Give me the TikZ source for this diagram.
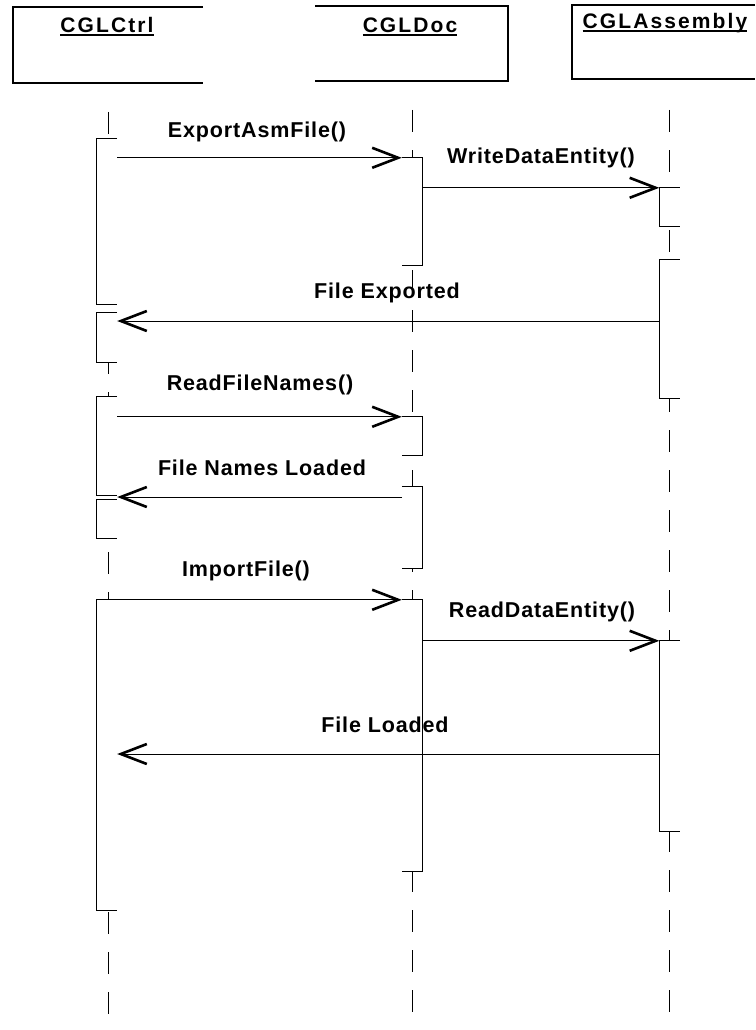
\documentclass[tikz,border=0pt]{standalone}
\usepackage{fontspec}
\setmainfont{Liberation Sans}[LetterSpace=4]
\newfontfamily\titlefont{Liberation Sans}[LetterSpace=10]
\usetikzlibrary{arrows.meta}
\newcommand\ulbox[1]{\setbox0\hbox{#1}\rlap{\rule[-3pt]{\wd0}{1.6pt}}\box0}
\newcommand\mkact[4]{\node[actbox, minimum height={(#4-#3)*1pt}] (#1) at (#2,{(#3+#4)/2}) {};}
\tikzset{
  headline/.style={draw=black, line width=1.2pt},
  title/.style={font=\titlefont\bfseries\fontsize{21}{23}\selectfont, anchor=base, inner sep=0pt},
  lbl/.style={font=\bfseries\fontsize{21.5}{23}\selectfont, anchor=base, inner sep=0pt},
  lifeline/.style={draw=black, line width=0.9pt, dash pattern=on 22pt off 18pt},
  actbox/.style={rectangle, minimum width=20pt, inner sep=0pt, fill=white, draw=none},
  actline/.style={draw=black, line width=0.9pt},
  msg/.style={draw=black, line width=0.9pt, -{Straight Barb[length=26pt,width=20pt,line width=2.6pt]}},
}
\begin{document}
\begin{tikzpicture}[x=1pt,y=-1pt]
\useasboundingbox[fill=white] (0,0) rectangle (755,1030);
% header boxes
\draw[headline] (203,7) -- (13,7) -- (13,83) -- (203,83);
\draw[headline] (315,6) -- (508,6) -- (508,81) -- (315,81);
\draw[headline] (755,5) -- (572,5) -- (572,79) -- (755,79);
\node[title] (tctrl) at (107,33) {\ulbox{CGLCtrl}};
\node[title] (tdoc) at (410,33) {\ulbox{CGLDoc}};
\node[title] (tasm) at (665,29) {\ulbox{CGLAssembly}};
% lifelines
\coordinate (ctop) at (108,112);
\coordinate (cbot) at (108,1030);
\coordinate (dtop) at (412,110);
\coordinate (dbot) at (412,1030);
\coordinate (atop) at (669,110);
\coordinate (abot) at (669,1030);
\draw[lifeline] (ctop) -- (cbot);
\draw[lifeline] (dtop) -- (dbot);
\draw[lifeline] (atop) -- (abot);
% activations
\mkact{c1}{107}{139}{304}
\mkact{c2}{107}{313}{362}
\mkact{c3}{107}{397}{495}
\mkact{c4}{107}{500}{538}
\mkact{c5}{107}{600}{910}
\mkact{d1}{412}{158}{265}
\mkact{d2}{412}{417}{455}
\mkact{d3}{412}{487}{568}
\mkact{d4}{412}{600}{871}
\mkact{a1}{669.5}{188}{226}
\mkact{a2}{669.5}{260}{398}
\mkact{a3}{669.5}{641}{831}
\foreach \n in {c1,c2,c3,c4,c5,a1,a2,a3}
  \draw[actline] (\n.north east) -- (\n.north west) -- (\n.south west) -- (\n.south east);
\foreach \n in {d1,d2,d3,d4}
  \draw[actline] (\n.north west) -- (\n.north east) -- (\n.south east) -- (\n.south west);
% messages
\draw[msg] (c1.east |- d1.north) -- (d1.north west);
\node[lbl] (l1) at (257,137) {ExportAsmFile()};
\draw[msg] (d1.east |- a1.north) -- (a1.north west);
\node[lbl] (l2) at (541,163) {WriteDataEntity()};
\coordinate (m3) at (659,321);
\draw[msg] (m3) -- (c2.east |- m3);
\node[lbl] (l3) at (387,298) {File Exported};
\draw[msg] (c3.east |- d2.north) -- (d2.north west);
\node[lbl] (l4) at (260,390) {ReadFileNames()};
\coordinate (m5) at (402,497);
\draw[msg] (m5) -- (c3.east |- m5);
\node[lbl] (l5) at (262,475) {File Names Loaded};
\draw[msg] (c5.north east) -- (d4.north west);
\node[lbl] (l6) at (246,576) {ImportFile()};
\draw[msg] (d4.east |- a3.north) -- (a3.north west);
\node[lbl] (l7) at (542,617) {ReadDataEntity()};
\coordinate (m8) at (659,754);
\draw[msg] (m8) -- (c5.east |- m8);
\node[lbl] (l8) at (385,732) {File Loaded};
\end{tikzpicture}
\end{document}
